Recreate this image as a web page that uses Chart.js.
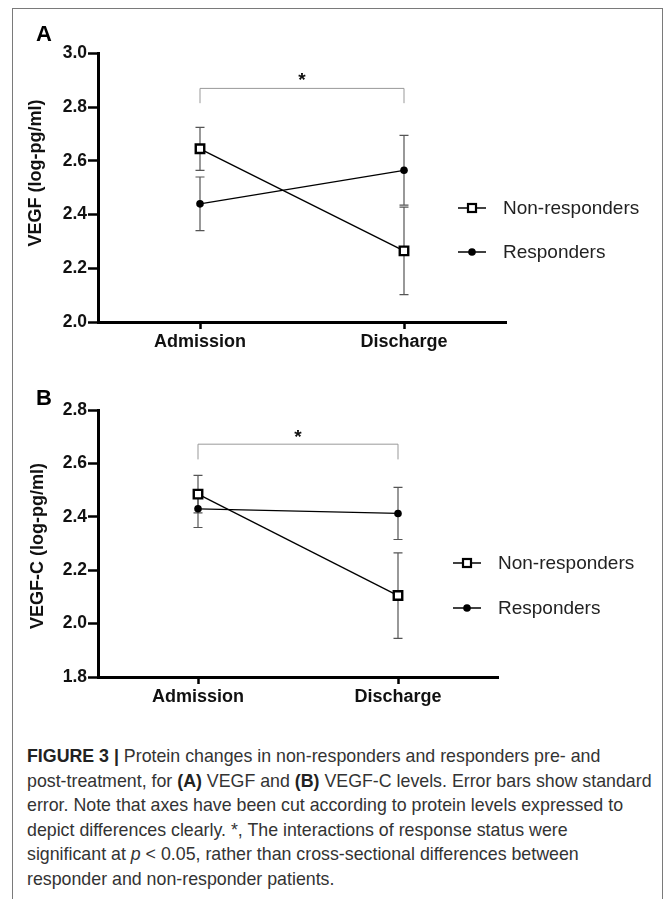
<!DOCTYPE html>
<html>
<head>
<meta charset="utf-8">
<script src="https://cdn.jsdelivr.net/npm/chart.js@4/dist/chart.umd.min.js"></script>
<style>
  html, body { margin: 0; padding: 0; background: #fff; }
  body { width: 668px; height: 899px; position: relative; overflow: hidden; font-family: "Liberation Sans", Arial, sans-serif; }
  .frame { position: absolute; left: 12px; top: 8px; width: 651px; height: 920px; border: 1.5px solid #7a7a7a; box-sizing: border-box; }
  canvas { position: absolute; left: 0; }
  #chartA { top: 0; }
  #chartB { top: 360px; }
  .caption { position: absolute; left: 27px; top: 744px; font-size: 17.8px; line-height: 24.6px; color: #333; white-space: nowrap; }
  .caption b { color: #222; }
</style>
</head>
<body>
<div class="frame"></div>
<canvas id="chartA" width="668" height="360"></canvas>
<canvas id="chartB" width="668" height="360"></canvas>
<div class="caption">
  <b>FIGURE 3 |</b> Protein changes in non-responders and responders pre- and<br>
  post-treatment, for <b>(A)</b> VEGF and <b>(B)</b> VEGF-C levels. Error bars show standard<br>
  error. Note that axes have been cut according to protein levels expressed to<br>
  depict differences clearly. *, The interactions of response status were<br>
  significant at <i>p</i> &lt; 0.05, rather than cross-sectional differences between<br>
  responder and non-responder patients.
</div>
<script>
// 데이터
const categories = ['Admission', 'Discharge'];
const seriesNames = ['Non-responders', 'Responders'];

// A: VEGF
const vegfNonResp = [2.645, 2.265];
const vegfNonRespSE = [0.08, 0.163];
const vegfResp = [2.44, 2.565];
const vegfRespSE = [0.10, 0.13];
const vegfTicks = [2.0, 2.2, 2.4, 2.6, 2.8, 3.0];
const vegfBracket = [2.87, 2.815, 2.915]; // bar, leg end, star

// B: VEGF-C
const vegfcNonResp = [2.485, 2.105];
const vegfcNonRespSE = [0.07, 0.16];
const vegfcResp = [2.43, 2.4125];
const vegfcRespSE = [0.07, 0.0975];
const vegfcTicks = [1.8, 2.0, 2.2, 2.4, 2.6, 2.8];
const vegfcBracket = [2.672, 2.615, 2.712];

const FONT = '"Liberation Sans", Arial, sans-serif';

// 에러바, 괄호, 범례, 축 제목을 그리는 플러그인
const overlay = {
    id: 'overlay',
    beforeDatasetsDraw(chart, args, o) {
        const ctx = chart.ctx;
        const xs = chart.scales.x, ys = chart.scales.y;
        ctx.save();
        ctx.strokeStyle = '#555';
        ctx.lineWidth = 1.2;
        chart.data.datasets.forEach((ds, di) => {
            ds.data.forEach((p, i) => {
                const se = o.errors[di][i];
                const x = xs.getPixelForValue(p.x);
                const y1 = ys.getPixelForValue(p.y + se);
                const y2 = ys.getPixelForValue(p.y - se);
                ctx.beginPath();
                ctx.moveTo(x, y1); ctx.lineTo(x, y2);
                ctx.moveTo(x - 4.5, y1); ctx.lineTo(x + 4.5, y1);
                ctx.moveTo(x - 4.5, y2); ctx.lineTo(x + 4.5, y2);
                ctx.stroke();
            });
        });
        ctx.restore();
    },
    afterDraw(chart, args, o) {
        const ctx = chart.ctx;
        const xs = chart.scales.x, ys = chart.scales.y;
        ctx.save();

        // 유의성 괄호
        const xa = xs.getPixelForValue(0), xb = xs.getPixelForValue(1);
        const yBar = ys.getPixelForValue(o.bracket[0]);
        const yLeg = ys.getPixelForValue(o.bracket[1]);
        ctx.strokeStyle = '#999';
        ctx.lineWidth = 1;
        ctx.beginPath();
        ctx.moveTo(xa, yLeg); ctx.lineTo(xa, yBar); ctx.lineTo(xb, yBar); ctx.lineTo(xb, yLeg);
        ctx.stroke();
        ctx.fillStyle = '#111';
        ctx.font = 'bold 19px ' + FONT;
        ctx.textAlign = 'center';
        ctx.textBaseline = 'middle';
        ctx.fillText('*', (xa + xb) / 2, ys.getPixelForValue(o.bracket[2]) + 4);

        // 범례
        chart.data.datasets.forEach((ds, di) => {
            const cx = o.legendX, cy = o.legendY[di];
            ctx.strokeStyle = '#000';
            ctx.lineWidth = 1.5;
            ctx.beginPath();
            ctx.moveTo(cx - 14, cy); ctx.lineTo(cx + 14, cy);
            ctx.stroke();
            if (ds.pointStyle === 'rect') {
                ctx.fillStyle = '#fff';
                ctx.lineWidth = 2.2;
                ctx.fillRect(cx - 4, cy - 4, 8, 8);
                ctx.strokeRect(cx - 4, cy - 4, 8, 8);
            } else {
                ctx.fillStyle = '#000';
                ctx.beginPath();
                ctx.arc(cx, cy, 3.8, 0, Math.PI * 2);
                ctx.fill();
            }
            ctx.fillStyle = '#222';
            ctx.font = '19px ' + FONT;
            ctx.textAlign = 'left';
            ctx.fillText(ds.label, cx + 31, cy + 1);
        });

        // 축 제목
        ctx.save();
        ctx.translate(o.titleX, o.titleY);
        ctx.rotate(-Math.PI / 2);
        ctx.fillStyle = '#111';
        ctx.font = 'bold ' + o.titleSize + 'px ' + FONT;
        ctx.textAlign = 'center';
        ctx.fillText(o.title, 0, 0);
        ctx.restore();

        // 패널 문자
        ctx.fillStyle = '#000';
        ctx.font = '900 22px ' + FONT;
        ctx.textAlign = 'left';
        ctx.fillText(o.letter, 36, o.letterY);
        ctx.restore();
    }
};

function createPanel(canvasId, cfg) {
    const ctx = document.getElementById(canvasId).getContext('2d');
    const toPoints = arr => arr.map((v, i) => ({ x: i, y: v }));

    new Chart(ctx, {
        type: 'line',
        data: {
            datasets: [{
                label: seriesNames[0],
                data: toPoints(cfg.nonResp),
                borderColor: '#000',
                borderWidth: 1.3,
                pointStyle: 'rect',
                pointRadius: 6,
                pointBorderWidth: 2.4,
                pointBackgroundColor: '#fff',
                pointBorderColor: '#000',
                clip: false,
                order: 1
            }, {
                label: seriesNames[1],
                data: toPoints(cfg.resp),
                borderColor: '#000',
                borderWidth: 1.3,
                pointStyle: 'circle',
                pointRadius: 3.8,
                pointBorderWidth: 0,
                pointBackgroundColor: '#000',
                clip: false,
                order: 2
            }]
        },
        options: {
            responsive: false,
            animation: false,
            layout: { padding: { top: cfg.top, right: cfg.right, bottom: 0, left: 0 } },
            scales: {
                x: {
                    type: 'linear',
                    min: -0.5,
                    max: 1.5,
                    afterBuildTicks: s => { s.ticks = categories.map((c, i) => ({ value: i })); },
                    afterFit: s => { s.height = cfg.xHeight; },
                    ticks: {
                        callback: v => categories[v],
                        color: '#111',
                        padding: 2,
                        maxRotation: 0,
                        font: { family: FONT, size: 18, weight: 'bold' }
                    },
                    grid: { drawOnChartArea: false, tickLength: 7, tickWidth: 2.5, tickColor: '#000' },
                    border: { display: true, color: '#000', width: 3 }
                },
                y: {
                    min: cfg.ticks[0],
                    max: cfg.ticks[cfg.ticks.length - 1],
                    afterBuildTicks: s => { s.ticks = cfg.ticks.map(v => ({ value: v })); },
                    afterFit: s => { s.width = 98; },
                    ticks: {
                        callback: v => v.toFixed(1),
                        color: '#111',
                        padding: 1,
                        font: { family: FONT, size: 17.5, weight: 'bold' }
                    },
                    grid: { drawOnChartArea: false, tickLength: 10, tickWidth: 2.5, tickColor: '#000' },
                    border: { display: true, color: '#000', width: 3 }
                }
            },
            plugins: {
                legend: { display: false },
                tooltip: { enabled: false },
                overlay: cfg.overlay
            }
        },
        plugins: [overlay]
    });
}

createPanel('chartA', {
    nonResp: vegfNonResp, resp: vegfResp, ticks: vegfTicks,
    top: 53.5, right: 162, xHeight: 38,
    overlay: {
        errors: [vegfNonRespSE, vegfRespSE], bracket: vegfBracket,
        legendX: 472, legendY: [208, 252],
        title: 'VEGF (log-pg/ml)', titleX: 36, titleY: 173, titleSize: 18,
        letter: 'A', letterY: 35
    }
});

createPanel('chartB', {
    nonResp: vegfcNonResp, resp: vegfcResp, ticks: vegfcTicks,
    top: 50, right: 170, xHeight: 43,
    overlay: {
        errors: [vegfcNonRespSE, vegfcRespSE], bracket: vegfcBracket,
        legendX: 467, legendY: [203, 248],
        title: 'VEGF-C (log-pg/ml)', titleX: 38, titleY: 186, titleSize: 18,
        letter: 'B', letterY: 39
    }
});
</script>
</body>
</html>
